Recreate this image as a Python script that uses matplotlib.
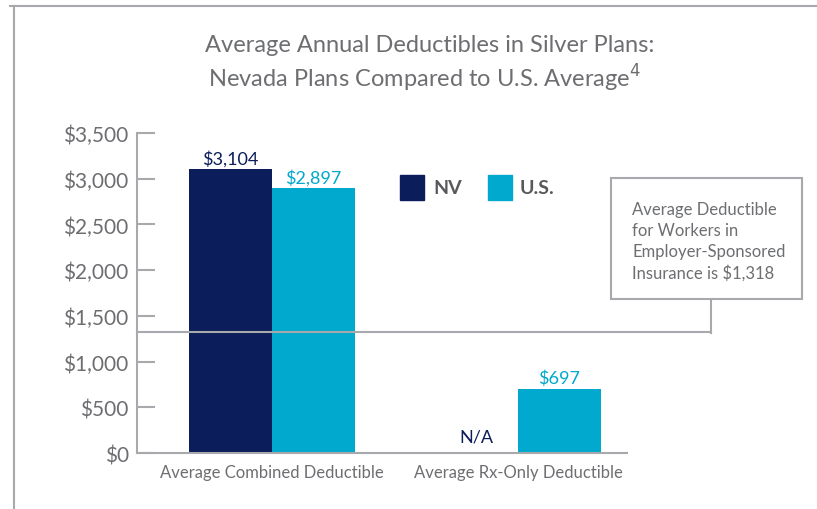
import matplotlib
matplotlib.use('Agg')
import matplotlib.pyplot as plt
import matplotlib.transforms as mtransforms
from matplotlib.patches import Rectangle
import numpy as np

categories = ['Average Combined Deductible', 'Average Rx-Only Deductible']
nv_values = [3104, None]
us_values = [2897, 697]
nv_labels = ['$3,104', 'N/A']
us_labels = ['$2,897', '$697']
yticks = [0, 500, 1000, 1500, 2000, 2500, 3000, 3500]
ytick_labels = ['$0', '$500', '$1,000', '$1,500', '$2,000', '$2,500', '$3,000', '$3,500']
employer_value = 1318
employer_text = 'Average Deductible\nfor Workers in\nEmployer-Sponsored\nInsurance is $1,318'

NAVY = '#0b1d5a'
CYAN = '#00a9cd'
GRAY = '#6d6e71'
LINE = '#a7a9ac'

plt.rcParams['font.family'] = ['Lato', 'DejaVu Sans']

fig = plt.figure(figsize=(8.17, 5.10), dpi=100)
ax = fig.add_axes([0.1677, 0.1098, 0.5997, 0.6275])

x = np.arange(len(categories))
w = 0.337
nv_plot = [v if v is not None else 0 for v in nv_values]
ax.bar(x - w / 2, nv_plot, w, color=NAVY)
ax.bar(x + w / 2, us_values, w, color=CYAN)

for i in range(len(categories)):
    if nv_values[i] is None:
        ax.annotate(nv_labels[i], (x[i] - w / 2, 0), xytext=(0, 6), textcoords='offset points',
                    ha='center', va='bottom', color=NAVY, fontsize=13)
    else:
        ax.annotate(nv_labels[i], (x[i] - w / 2, nv_values[i]), xytext=(0, 2), textcoords='offset points',
                    ha='center', va='bottom', color=NAVY, fontsize=13)
    ax.annotate(us_labels[i], (x[i] + w / 2, us_values[i]), xytext=(0, 2), textcoords='offset points',
                ha='center', va='bottom', color=CYAN, fontsize=13)

ax.set_xlim(-0.549, 1.443)
ax.set_ylim(0, 3500)
ax.set_yticks(yticks)
ax.set_yticklabels(ytick_labels)
ax.set_xticks(x)
ax.set_xticklabels(categories)
ax.tick_params(axis='y', direction='in', length=13, width=1.5, color=LINE, labelcolor=GRAY,
               labelsize=15, pad=6)
ax.tick_params(axis='x', length=0, labelcolor=GRAY, labelsize=12, pad=8)
for s in ['top', 'right']:
    ax.spines[s].set_visible(False)
for s in ['left', 'bottom']:
    ax.spines[s].set_color(LINE)
    ax.spines[s].set_linewidth(1.5)

# employer line
trans = mtransforms.blended_transform_factory(ax.transAxes, ax.transData)
xr = 1.171
ax.plot([0, xr], [employer_value, employer_value], color=LINE, lw=1.5, transform=trans, clip_on=False)
yb = 1 - 300 / 510
fig.add_artist(plt.Line2D([711 / 817, 711 / 817], [(510 - 334) / 510, yb], color=LINE, lw=1.5))
fig.add_artist(Rectangle((611 / 817, yb), (802 - 611) / 817, (300 - 179) / 510,
                         fill=False, edgecolor=LINE, lw=1.5))
fig.text(632 / 817, 1 - 242 / 510, employer_text, ha='left', va='center', color=GRAY,
         fontsize=12, linespacing=1.38)

# legend
fig.add_artist(Rectangle((400 / 817, 1 - 201 / 510), 24 / 817, 25 / 510, color=NAVY))
fig.text(433 / 817, 1 - 189 / 510, 'NV', color='#58595b', fontsize=14, fontweight='bold', va='center')
fig.add_artist(Rectangle((488 / 817, 1 - 201 / 510), 24 / 817, 25 / 510, color=CYAN))
fig.text(520 / 817, 1 - 189 / 510, 'U.S.', color='#58595b', fontsize=14, fontweight='bold', va='center')

# title
fig.text(430 / 817, 1 - 45 / 510, 'Average Annual Deductibles in Silver Plans:', ha='center', va='center',
         color=GRAY, fontsize=17)
fig.text(425 / 817, 1 - 78 / 510, 'Nevada Plans Compared to U.S. Average$^{4}$', ha='center', va='center',
         color=GRAY, fontsize=17)

# frame
fig.add_artist(plt.Line2D([10 / 817, 1], [1 - 7 / 510, 1 - 7 / 510], color=LINE, lw=1.5))
fig.add_artist(plt.Line2D([14 / 817, 14 / 817], [0, 1 - 7 / 510], color=LINE, lw=1.5))

fig.savefig('out.png', dpi=100)
